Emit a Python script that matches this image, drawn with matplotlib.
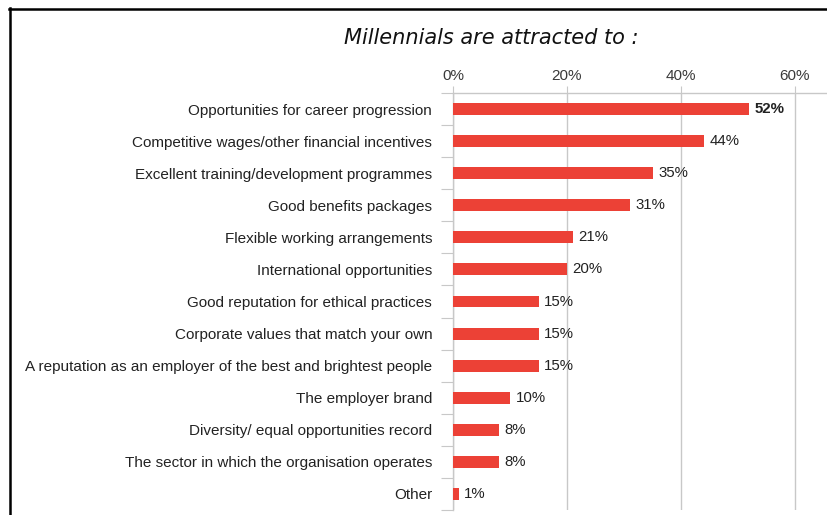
import matplotlib.pyplot as plt
from matplotlib.lines import Line2D

plt.rcParams["font.family"] = ["Liberation Sans", "DejaVu Sans"]

categories = [
    "Opportunities for career progression",
    "Competitive wages/other financial incentives",
    "Excellent training/development programmes",
    "Good benefits packages",
    "Flexible working arrangements",
    "International opportunities",
    "Good reputation for ethical practices",
    "Corporate values that match your own",
    "A reputation as an employer of the best and brightest people",
    "The employer brand",
    "Diversity/ equal opportunities record",
    "The sector in which the organisation operates",
    "Other",
]
values = [52, 44, 35, 31, 21, 20, 15, 15, 15, 10, 8, 8, 1]
tick_values = [0, 20, 40, 60]
tick_labels = ["0%", "20%", "40%", "60%"]

BAR_COLOR = "#ec4136"
GRID_COLOR = "#c8c8c8"
TEXT_COLOR = "#222222"

fig = plt.figure(figsize=(8.28, 5.15), dpi=100)
ax = fig.add_axes([453 / 828, 5 / 515, 375 / 828, 417 / 515])

y = list(range(len(categories)))
ax.barh(y, values, height=0.37, color=BAR_COLOR, zorder=3)

for i, v in enumerate(values):
    ax.annotate(f"{v}%", (v, i), xytext=(4, 0), textcoords="offset points",
                va="center", ha="left", fontsize=10.8, color=TEXT_COLOR,
                fontweight="bold" if i == 0 else "normal")

ax.set_xlim(0, 375 / 5.7)
ax.set_ylim(len(categories) - 0.5, -0.5)

# x axis on top, light vertical grid
ax.xaxis.tick_top()
ax.set_xticks(tick_values)
ax.set_xticklabels(tick_labels, fontsize=11, color="#3a3a3a")
ax.tick_params(axis="x", length=5, color=GRID_COLOR, pad=2.5)
ax.grid(axis="x", color=GRID_COLOR, linewidth=1, zorder=0)

# category names sit between boundary ticks on the left spine
ax.set_yticks([i - 0.5 for i in range(len(categories) + 1)])
ax.set_yticklabels([])
ax.set_yticks(y, minor=True)
ax.set_yticklabels(categories, minor=True, fontsize=11, color=TEXT_COLOR)
ax.tick_params(axis="y", which="major", length=9, color=GRID_COLOR)
ax.tick_params(axis="y", which="minor", length=0, pad=15)

for side in ("right", "bottom"):
    ax.spines[side].set_visible(False)
for side in ("top", "left"):
    ax.spines[side].set_color(GRID_COLOR)
    ax.spines[side].set_linewidth(1)

fig.text(491 / 828, 1 - 38 / 515, "Millennials are attracted to :",
         ha="center", va="center", fontsize=15, style="italic",
         family="DejaVu Sans", color="#111111")

# black frame along top and left edges
fig.add_artist(Line2D([9 / 828, 1], [1 - 9 / 515, 1 - 9 / 515],
                      transform=fig.transFigure, color="black", linewidth=1.8))
fig.add_artist(Line2D([10 / 828, 10 / 828], [0, 1 - 8 / 515],
                      transform=fig.transFigure, color="black", linewidth=1.8))

fig.savefig("out.png", dpi=100)
